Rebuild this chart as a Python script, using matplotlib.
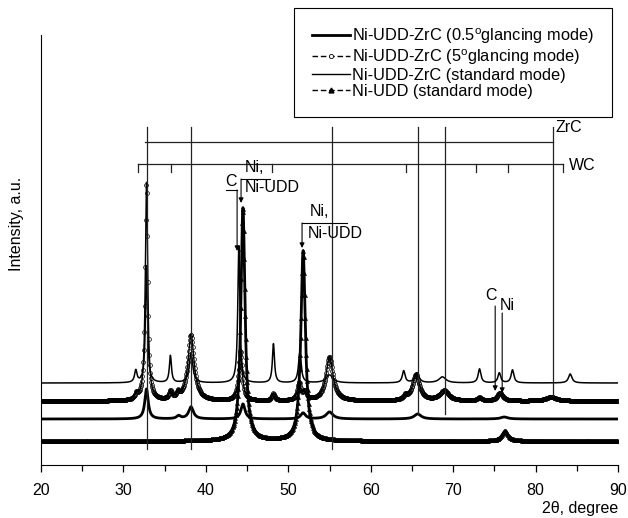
import numpy as np
import matplotlib
matplotlib.use("Agg")
import matplotlib.pyplot as plt
from matplotlib.lines import Line2D

plt.rcParams.update({
    "font.family": ["Liberation Sans", "DejaVu Sans"],
    "font.size": 11,
    "mathtext.fontset": "custom",
    "mathtext.rm": "Liberation Sans",
    "mathtext.it": "Liberation Sans:italic",
})

# ---- data (intensity in arbitrary units) ----
# peak tables: position (2theta), height above baseline, FWHM
std_base = 82
std_pos = [31.5, 32.8, 35.7, 38.2, 44.0, 48.2, 51.4, 55.0, 64.0, 65.6, 68.7, 73.2, 75.6, 77.2, 84.2]
std_h   = [12, 117, 27, 30, 137, 39, 30, 8, 12, 10, 6, 14, 10, 13, 9]
std_w   = [0.35, 0.3, 0.3, 0.5, 0.3, 0.3, 0.4, 1.0, 0.4, 0.6, 1.0, 0.4, 0.4, 0.4, 0.5]

g5_base = 64
g5_pos = [31.6, 32.8, 35.7, 36.6, 38.2, 44.2, 48.2, 51.3, 52.0, 55.0, 64.2, 65.5, 68.9, 73.2, 75.7, 81.9]
g5_h   = [5, 218, 8, 6, 66, 50, 7, 17, 8, 44, 4, 26, 10, 3, 8, 4]
g5_w   = [0.4, 0.35, 0.4, 0.4, 0.9, 0.5, 0.4, 0.5, 0.5, 1.0, 0.5, 1.0, 1.3, 0.6, 0.8, 1.5]

g05_base = 46
g05_pos = [32.8, 36.7, 38.2, 44.5, 51.8, 55.0, 65.7, 76.2]
g05_h   = [30, 3, 12, 15, 6, 7, 5, 2]
g05_w   = [0.5, 0.6, 0.7, 0.6, 0.7, 1.0, 1.0, 1.0]

ni_base = 24
ni_pos = [44.5, 51.8, 76.3]
ni_h   = [233, 190, 10]
ni_w   = [0.6, 0.65, 0.9]

# reference lines
zrc_lines = [32.86, 38.2, 55.3, 65.75, 69.0, 82.1]
zrc_bottoms = [16, 16, 16, 51, 51, 69]
wc_ticks = [31.8, 35.8, 48.0, 64.3, 72.8, 76.6, 83.3]

two_theta = np.arange(20.0, 90.001, 0.02)


def pattern(base, pos, h, w):
    y = np.full_like(two_theta, float(base))
    for p, a, fw in zip(pos, h, w):
        y += a / (1 + (2 * (two_theta - p) / fw) ** 2)
    return y


fig = plt.figure(figsize=(6.28, 5.18), dpi=100)
ax = fig.add_axes([41 / 628, (518 - 465) / 518, (618 - 41) / 628, (465 - 35) / 518])

ax.plot(two_theta, pattern(std_base, std_pos, std_h, std_w), color="black", lw=1.1)
ax.plot(two_theta, pattern(g5_base, g5_pos, g5_h, g5_w), color="black", lw=1.0,
        marker="o", ms=2.8, mfc="none", mec="black", mew=0.5, markevery=3)
ax.plot(two_theta, pattern(g05_base, g05_pos, g05_h, g05_w), color="black", lw=2.0)
ax.plot(two_theta, pattern(ni_base, ni_pos, ni_h, ni_w), color="black", lw=2.0,
        marker="^", ms=3.0, mfc="black", mec="black", mew=0.3, markevery=3)

# ZrC lines and bracket
for x0, yb in zip(zrc_lines, zrc_bottoms):
    ax.plot([x0, x0], [yb, 338], color="#222222", lw=0.9)
ax.plot([zrc_lines[0] - 0.3, zrc_lines[-1]], [323, 323], color="#222222", lw=0.9)
ax.text(82.4, 337, "ZrC", ha="left", va="center", fontsize=11.5)

# WC bracket
ax.plot([wc_ticks[0], wc_ticks[-1]], [301, 301], color="#222222", lw=0.9)
for x0 in wc_ticks:
    ax.plot([x0, x0], [301, 293], color="#222222", lw=0.9)
ax.text(84.0, 299, "WC", ha="left", va="center", fontsize=11.5)

arrow = dict(arrowstyle="-|>", lw=0.8, color="black", mutation_scale=7, shrinkA=0, shrinkB=0)

# C / Ni, Ni-UDD near 44
ax.plot([42.45, 43.79], [275, 275], color="black", lw=0.8)
ax.text(43.06, 283, "C", ha="center", va="center", fontsize=11.5)
ax.annotate("", xy=(43.79, 214), xytext=(43.79, 275), arrowprops=arrow)
ax.plot([44.27, 47.8], [286, 286], color="black", lw=0.8)
ax.annotate("", xy=(44.27, 262), xytext=(44.27, 286), arrowprops=arrow)
ax.text(44.76, 297, "Ni,", ha="left", va="center", fontsize=11.5)
ax.text(44.76, 277, "Ni-UDD", ha="left", va="center", fontsize=11.5)

# Ni, Ni-UDD near 52
ax.plot([51.67, 57.1], [242, 242], color="black", lw=0.8)
ax.annotate("", xy=(51.67, 217), xytext=(51.67, 242), arrowprops=arrow)
ax.text(52.6, 254, "Ni,", ha="left", va="center", fontsize=11.5)
ax.text(52.4, 231, "Ni-UDD", ha="left", va="center", fontsize=11.5)

# C / Ni near 75
ax.text(74.6, 170, "C", ha="center", va="center", fontsize=11.5)
ax.annotate("", xy=(75.1, 74), xytext=(75.1, 159), arrowprops=arrow)
ax.text(75.7, 160, "Ni", ha="left", va="center", fontsize=11.5)
ax.annotate("", xy=(75.95, 72), xytext=(75.95, 152), arrowprops=arrow)

ax.set_xlim(20, 90)
ax.set_ylim(0, 430)
ax.spines["top"].set_visible(False)
ax.spines["right"].set_visible(False)
ax.set_yticks([])
ax.set_xticks(np.arange(20, 91, 10))
ax.set_xticks(np.arange(25, 90, 10), minor=True)
ax.tick_params(axis="x", which="major", length=5, width=0.9, pad=8, labelsize=11.5)
ax.tick_params(axis="x", which="minor", length=4, width=0.9)

ax.set_xlabel("2θ, degree", fontsize=11.5)
ax.xaxis.set_label_coords(1.0, -0.083)
ax.xaxis.label.set_horizontalalignment("right")
ax.set_ylabel("Intensity, a.u.", fontsize=11.5)
ax.yaxis.set_label_coords(-0.03, 0.56)

handles = [
    Line2D([], [], color="black", lw=2.0),
    Line2D([], [], color="black", lw=1.0, ls=(0, (4, 2)), marker="o", ms=3, mfc="white", mec="black", mew=0.6),
    Line2D([], [], color="black", lw=1.0),
    Line2D([], [], color="black", lw=1.0, ls=(0, (4, 2)), marker="^", ms=3.5, mfc="black", mec="black"),
]
labels = [
    r"Ni-UDD-ZrC (0.5$^{\rm o}$glancing mode)",
    r"Ni-UDD-ZrC (5$^{\rm o}$glancing mode)",
    "Ni-UDD-ZrC (standard mode)",
    "Ni-UDD (standard mode)",
]
leg = fig.legend(handles, labels, loc="upper right", bbox_to_anchor=(612 / 628, 1 - 8 / 518),
                 frameon=True, fancybox=False, edgecolor="black", facecolor="white", framealpha=1,
                 fontsize=11.8, handlelength=2.3, handletextpad=0.15, numpoints=1,
                 labelspacing=0.08, borderpad=1.1, borderaxespad=0)
leg.get_frame().set_linewidth(0.8)

fig.savefig("out.png", dpi=100)
